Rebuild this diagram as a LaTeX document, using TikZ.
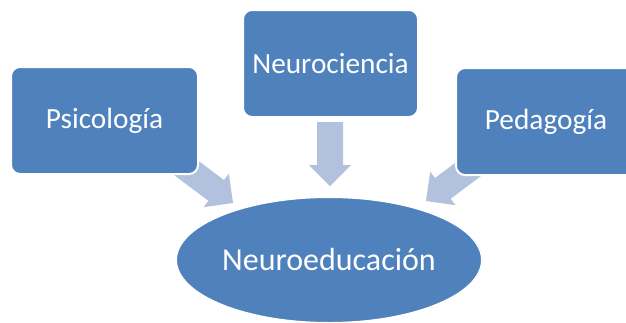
\documentclass[tikz,border=0pt]{standalone}
\usepackage{fontspec}
\setmainfont{Carlito}
\usetikzlibrary{shapes.geometric}
\definecolor{boxblue}{HTML}{4F81BD}
\definecolor{arrowblue}{HTML}{B2C1DE}
\begin{document}
\begin{tikzpicture}[x=1pt,y=-1pt,
  blockbox/.style={draw=white, line width=2pt, fill=boxblue, rounded corners=9pt,
    text=white, font=\fontsize{29.3}{35}\selectfont, inner sep=0pt},
  centreoval/.style={ellipse, draw=white, line width=2pt, fill=boxblue,
    text=white, font=\fontsize{32}{38}\selectfont, inner sep=0pt,
    minimum width=306pt, minimum height=126pt},
  blockarrow/.style={fill=arrowblue}]
\useasboundingbox (0,0) rectangle (626,322);
\clip (0,0) rectangle (626,322);
% arrows (behind the boxes)
\begin{scope}[shift={(233,203)}, rotate=-36.87]
  \fill[blockarrow] (0,0) -- (-21,21) -- (-21,13) -- (-75,13) -- (-75,-13) -- (-21,-13) -- (-21,-21) -- cycle;
\end{scope}
\begin{scope}[shift={(330,186)}, rotate=-90]
  \fill[blockarrow] (0,0) -- (-21,21) -- (-21,13) -- (-64,13) -- (-64,-13) -- (-21,-13) -- (-21,-21) -- cycle;
\end{scope}
\begin{scope}[shift={(426,201)}, rotate=-143.13]
  \fill[blockarrow] (0,0) -- (-21,21) -- (-21,13) -- (-75,13) -- (-75,-13) -- (-21,-13) -- (-21,-21) -- cycle;
\end{scope}
% boxes
\node[blockbox, minimum width=187pt, minimum height=107pt] (psi) at (104.5,120.5) {Psicología};
\node[blockbox, minimum width=175pt, minimum height=107pt] (neu) at (330.5,63.5) {Neurociencia};
\node[blockbox, minimum width=180pt, minimum height=107pt] (ped) at (546,121.5) {Pedagogía};
% ellipse
\node[centreoval] (edu) at (329,260) {Neuroeducación};
\end{tikzpicture}
\end{document}
